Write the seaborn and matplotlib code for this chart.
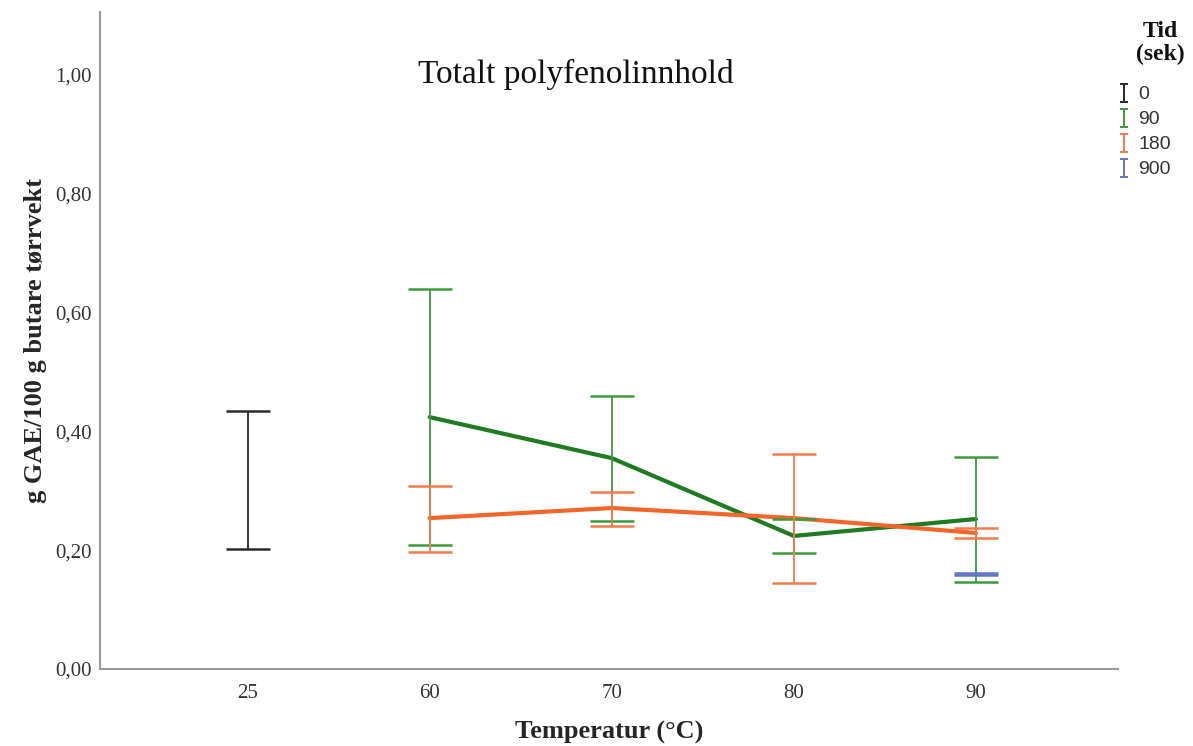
import numpy as np
import pandas as pd
import matplotlib
matplotlib.use("Agg")
import matplotlib.pyplot as plt
from matplotlib.lines import Line2D
from matplotlib.path import Path
from matplotlib.ticker import FuncFormatter
import seaborn as sns

# Temperature categories and extraction times
temperatures = ["25", "60", "70", "80", "90"]
times = ["0", "90", "180", "900"]

# Mean total polyphenols (g GAE/100 g dry weight) with interval bounds per time series
temp_0 = ["25"]
mean_0 = [0.318]
low_0 = [0.202]
high_0 = [0.434]

temp_90 = ["60", "70", "80", "90"]
mean_90 = [0.424, 0.355, 0.224, 0.2525]
low_90 = [0.209, 0.249, 0.195, 0.146]
high_90 = [0.640, 0.4596, 0.2525, 0.357]

temp_180 = ["60", "70", "80", "90"]
mean_180 = [0.254, 0.271, 0.254, 0.229]
low_180 = [0.197, 0.241, 0.145, 0.2205]
high_180 = [0.308, 0.298, 0.362, 0.237]

temp_900 = ["90"]
mean_900 = [0.160]
low_900 = [0.158]
high_900 = [0.162]

line_colors = {"0": "#1c1c1c", "90": "#1f7a22", "180": "#f2662a", "900": "#5a6fbf"}
bar_colors = {"0": "#2a2a2a", "90": "#3c9a3c", "180": "#f27b4a", "900": "#6075c4"}

series = [
    ("0", temp_0, mean_0, low_0, high_0),
    ("90", temp_90, mean_90, low_90, high_90),
    ("180", temp_180, mean_180, low_180, high_180),
    ("900", temp_900, mean_900, low_900, high_900),
]

rows = []
for tid, temps, means, lows, highs in series:
    for t, m, lo, hi in zip(temps, means, lows, highs):
        rows.append({"Tid": tid, "Temperatur": t, "pos": temperatures.index(t),
                     "mean": m, "low": lo, "high": hi})
df = pd.DataFrame(rows)

sns.set_theme(style="white")
plt.rcParams["font.family"] = ["Liberation Serif", "DejaVu Serif"]

fig = plt.figure(figsize=(11.93, 7.46), dpi=100)
ax = fig.add_axes([100 / 1193, 1 - 669 / 746, 1018 / 1193, 657 / 746])

# Mean lines for series with more than one temperature
line_df = df[df["Tid"].isin(["90", "180"])]
sns.lineplot(data=line_df, x="pos", y="mean", hue="Tid", hue_order=["90", "180"],
             palette={k: line_colors[k] for k in ["90", "180"]},
             linewidth=3.0, ax=ax, legend=False, errorbar=None, sort=False, zorder=3)

# Interval bars
for tid in times:
    sub = df[df["Tid"] == tid]
    yerr = np.vstack([sub["mean"] - sub["low"], sub["high"] - sub["mean"]])
    ax.errorbar(sub["pos"], sub["mean"], yerr=yerr, fmt="none",
                ecolor=bar_colors[tid], elinewidth=1.3, capsize=16, capthick=1.8,
                zorder=4)

ax.set_xlim(-0.81, 4.78)
ax.set_ylim(0, 1.106)
ax.set_xticks(range(len(temperatures)))
ax.set_xticklabels(temperatures)
ax.set_yticks([0, 0.2, 0.4, 0.6, 0.8, 1.0])
ax.yaxis.set_major_formatter(FuncFormatter(lambda v, p: f"{v:.2f}".replace(".", ",")))
ax.tick_params(axis="both", length=0, labelsize=15, colors="#333333")
ax.tick_params(axis="x", pad=11)
ax.tick_params(axis="y", pad=6)

for side in ["top", "right"]:
    ax.spines[side].set_visible(False)
for side in ["left", "bottom"]:
    ax.spines[side].set_color("#9a9a9a")
    ax.spines[side].set_linewidth(1.5)

ax.set_xlabel("Temperatur (°C)", fontsize=19, fontweight="bold", labelpad=13)
ax.set_ylabel("g GAE/100 g butare tørrvekt", fontsize=19, fontweight="bold", labelpad=6)

ax.text(0.467, 0.905, "Totalt polyfenolinnhold", transform=ax.transAxes,
        ha="center", va="center", fontsize=24, color="#111111")

# Legend with I-shaped interval markers
fig.text(1160 / 1193, 1 - 43 / 746, "Tid\n(sek)", ha="center", va="center",
         fontsize=17, fontweight="bold", linespacing=1.1, color="#111111")
ibar = Path([(-0.45, 1), (0.45, 1), (0, 1), (0, -1), (-0.45, -1), (0.45, -1)],
            [Path.MOVETO, Path.LINETO, Path.MOVETO, Path.LINETO, Path.MOVETO, Path.LINETO])
handles = [Line2D([], [], linestyle="none", marker=ibar, markersize=13,
                  markeredgewidth=1.4, markerfacecolor="none",
                  markeredgecolor=bar_colors[t], color=bar_colors[t]) for t in times]
leg = fig.legend(handles, times, loc="upper left",
                 bbox_to_anchor=(1110 / 1193, 1 - 78 / 746), frameon=False,
                 handlelength=0.6, handletextpad=0.45, labelspacing=0.38,
                 prop={"family": ["Liberation Sans", "DejaVu Sans"], "size": 14},
                 borderaxespad=0)
for txt in leg.get_texts():
    txt.set_color("#333333")

fig.savefig("out.png", dpi=100)
